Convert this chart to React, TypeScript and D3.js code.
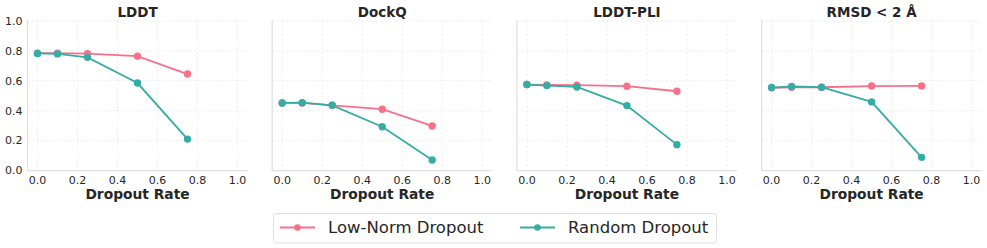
import React from "react";
import * as d3 from "d3";

const dropoutRates = [0, 0.1, 0.25, 0.5, 0.75];
const panelTitles = ["LDDT", "DockQ", "LDDT-PLI", "RMSD < 2 Å"];
const lowNormLDDT = [0.785, 0.785, 0.782, 0.765, 0.645];
const randomLDDT = [0.783, 0.78, 0.757, 0.585, 0.21];
const lowNormDockQ = [0.452, 0.452, 0.436, 0.41, 0.298];
const randomDockQ = [0.452, 0.454, 0.436, 0.293, 0.07];
const lowNormPLI = [0.575, 0.572, 0.571, 0.564, 0.53];
const randomPLI = [0.575, 0.568, 0.559, 0.434, 0.173];
const lowNormRMSD = [0.553, 0.557, 0.557, 0.565, 0.566];
const randomRMSD = [0.555, 0.562, 0.557, 0.459, 0.088];
const xTicks = [0, 0.2, 0.4, 0.6, 0.8, 1.0];
const yTicks = [0, 0.2, 0.4, 0.6, 0.8, 1.0];
const seriesNames = ["Low-Norm Dropout", "Random Dropout"];
const seriesColors = ["#f77189", "#36ada4"];

const panelData = [
  [lowNormLDDT, randomLDDT],
  [lowNormDockQ, randomDockQ],
  [lowNormPLI, randomPLI],
  [lowNormRMSD, randomRMSD],
];

const FONT = "DejaVu Sans, sans-serif";

export default function App() {
  const W = 987, H = 248;
  const panelLefts = [27.5, 272.2, 516.9, 761.6];
  const pw = 220;
  const top = 21, bottom = 170.5;
  const y = d3.scaleLinear().domain([0, 1]).range([bottom, top]);
  const fmt = d3.format(".1f");

  return (
    <svg width={W} height={H} style={{ position: "absolute", left: 0, top: 0, background: "#fff" }} fontFamily={FONT}>
      {panelData.map((series, pi) => {
        const L = panelLefts[pi];
        const x = d3.scaleLinear().domain([-0.05, 1.05]).range([L, L + pw]);
        const line = d3.line<number>().x((_, i) => x(dropoutRates[i])).y((v) => y(v));
        return (
          <g key={pi}>
            {xTicks.map((t) => (
              <line key={"gx" + t} x1={x(t)} x2={x(t)} y1={top - 1} y2={bottom} stroke="#ebebeb" strokeWidth={0.8} strokeDasharray="2.5,2" />
            ))}
            {yTicks.map((t) => (
              <line key={"gy" + t} x1={L} x2={L + pw} y1={y(t)} y2={y(t)} stroke="#ebebeb" strokeWidth={0.8} strokeDasharray="2.5,2" />
            ))}
            <line x1={L} x2={L} y1={top - 1} y2={bottom} stroke="#e0e0e0" strokeWidth={1.25} />
            <line x1={L} x2={L + pw} y1={bottom} y2={bottom} stroke="#e0e0e0" strokeWidth={1.25} />
            {pi === 0 && yTicks.map((t) => (
              <text key={"yl" + t} x={L - 5} y={y(t)} dy="0.35em" textAnchor="end" fontSize={11} fill="#262626">{fmt(t)}</text>
            ))}
            {xTicks.map((t) => (
              <text key={"xl" + t} x={x(t)} y={180} dy="0.35em" textAnchor="middle" fontSize={11} fill="#262626">{fmt(t)}</text>
            ))}
            <text x={L + pw / 2} y={12.5} dy="0.35em" textAnchor="middle" fontSize={13.5} fontWeight="bold" fill="#262626">{panelTitles[pi]}</text>
            <text x={L + pw / 2} y={194.5} dy="0.35em" textAnchor="middle" fontSize={13.8} fontWeight="bold" fill="#262626">Dropout Rate</text>
            {series.map((vals, si) => (
              <g key={si}>
                <path d={line(vals) || ""} fill="none" stroke={seriesColors[si]} strokeWidth={1.8} />
                {vals.map((v, i) => (
                  <circle key={i} cx={x(dropoutRates[i])} cy={y(v)} r={3.7} fill={seriesColors[si]} />
                ))}
              </g>
            ))}
          </g>
        );
      })}
      <g>
        <rect x={273.5} y={213.5} width={443} height={29.5} rx={2.5} fill="#fff" stroke="#dcdcdc" strokeWidth={0.9} />
        {seriesNames.map((name, i) => {
          const lx = i === 0 ? 280 : 520;
          return (
            <g key={name}>
              <line x1={lx} x2={lx + 35} y1={227.5} y2={227.5} stroke={seriesColors[i]} strokeWidth={1.8} />
              <circle cx={lx + 17.5} cy={227.5} r={3.3} fill={seriesColors[i]} />
              <text x={lx + 48} y={227.5} dy="0.35em" fontSize={16.5} fill="#262626">{name}</text>
            </g>
          );
        })}
      </g>
    </svg>
  );
}
